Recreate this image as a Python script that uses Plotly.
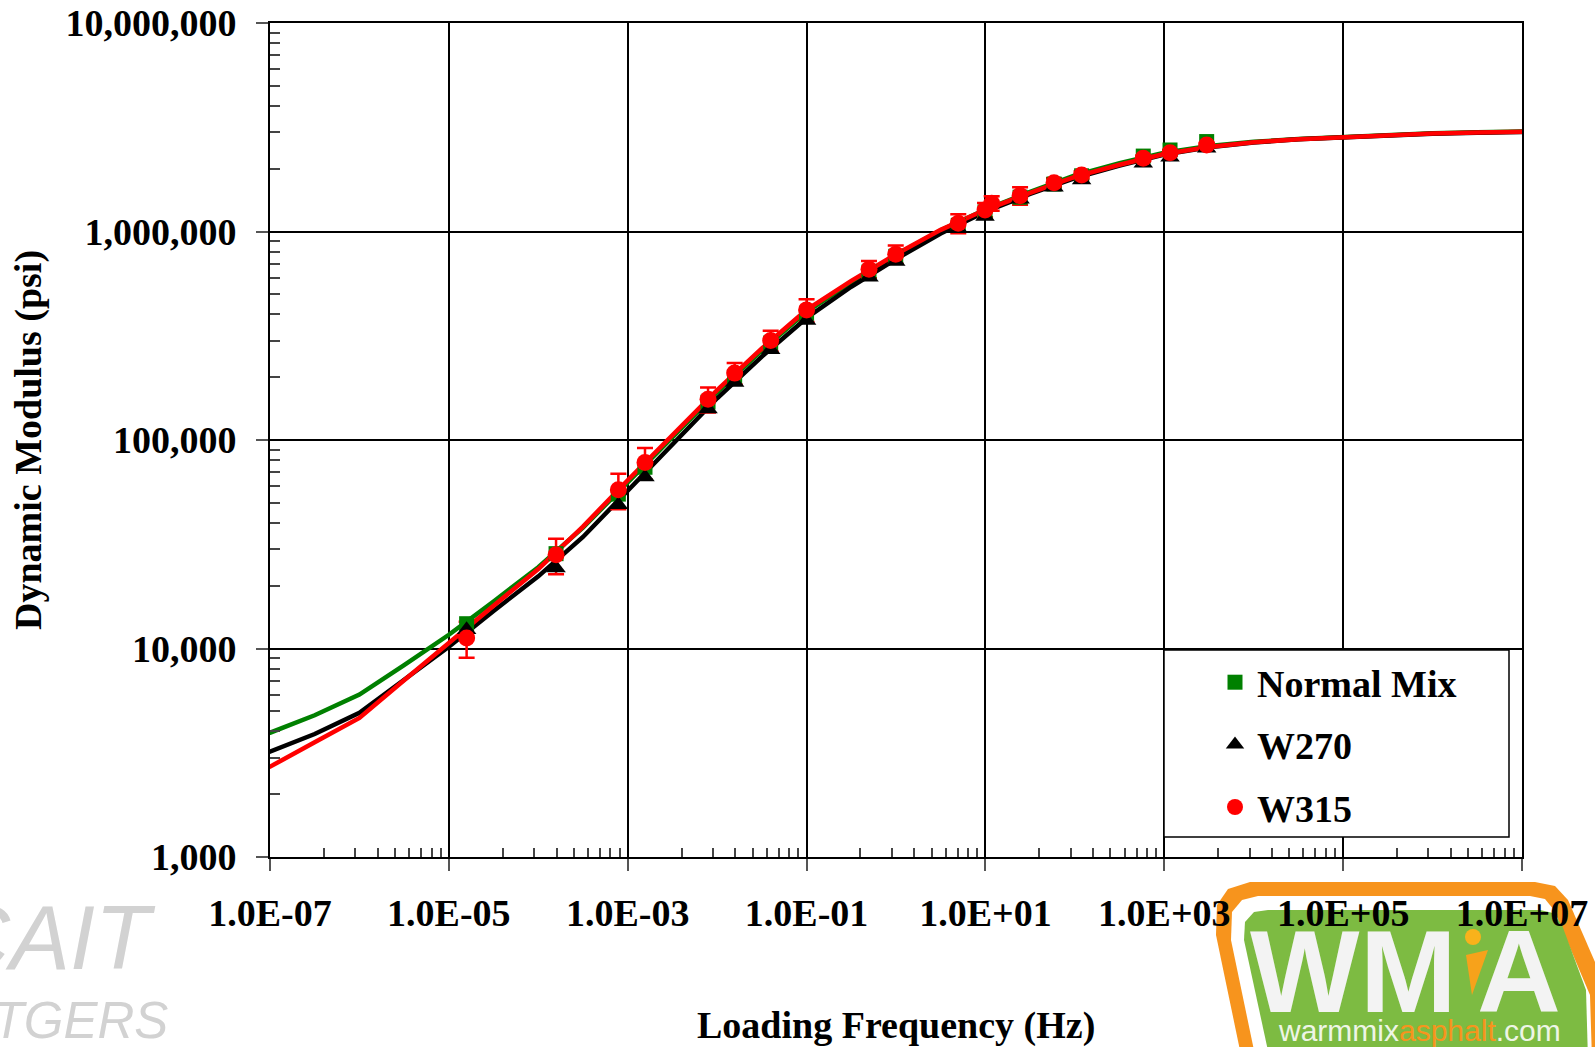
import plotly.graph_objects as go

# ---------------- data ----------------
# fitted master curves (Hz -> psi)
curve_freq = [8.1e-8, 1e-7, 3.16e-7, 1e-6, 3.16e-6, 1e-5, 3.16e-5, 1e-4, 3.16e-4, 1e-3,
              3.16e-3, 1e-2, 3.16e-2, 0.1, 0.316, 1, 3.16, 10, 31.6, 100,
              316, 1000, 3160, 1e4, 3.16e4, 1e5, 3.16e5, 1e6, 3.16e6, 1e7, 1.2e7]
curve_normal = [3864, 3945, 4786, 6012, 8318, 11640, 16790, 24550, 38020, 62660,
                103300, 169400, 269200, 412100, 570200, 769100, 1014000, 1274000, 1549000, 1858000,
                2128000, 2388000, 2570000, 2692000, 2780000, 2844000, 2911000, 2958000, 2992000, 3013000, 3017000]
curve_w270 = [3133, 3199, 3890, 4920, 7079, 10210, 15140, 22180, 34280, 56890,
              95500, 158500, 251200, 384600, 543300, 737900, 977200, 1245000, 1514000, 1803000,
              2070000, 2339000, 2535000, 2673000, 2767000, 2831000, 2897000, 2944000, 2979000, 2999000, 3003000]
curve_w315 = [2655, 2710, 3548, 4645, 7047, 10690, 16030, 24040, 38460, 64120,
              105700, 173400, 274800, 420700, 579400, 778000, 1018600, 1270600, 1531000, 1828000,
              2089000, 2355000, 2541000, 2679000, 2773000, 2838000, 2904000, 2951000, 2985000, 3006000, 3010000]

# measured points (reduced frequency, Hz)
meas_freq = [1.58e-5, 1.58e-4, 7.86e-4, 1.56e-3, 7.91e-3, 1.57e-2, 3.97e-2, 0.1, 0.499, 0.993,
             4.97, 9.9, 11.75, 24.4, 58.5, 119, 582, 1159, 2978]
meas_normal = [13150, 28500, 55000, 74000, 152000, 201000, 292000, 405000, 640000, 760000,
               1070000, 1240000, None, 1460000, 1690000, 1850000, 2300000, 2460000, 2700000]
meas_w270 = [12300, 24300, 48900, 66400, 140700, 188600, 270700, 373900, 603900, 717300,
             1030000, 1179000, None, 1428000, 1631000, 1768000, 2125000, 2271000, 2507000]
meas_w315 = [11220, 28180, 57700, 78000, 157000, 209300, 299900, 420800, 659500, 778300,
             1095900, 1269000, 1367000, 1486000, 1715000, 1867000, 2246000, 2389000, 2601000]
err_w315 = [2200, 5450, 11200, 13600, 21500, 24500, 34300, 52500, 63000, 77700,
            114000, 100000, 110000, 144000, 86000, 80000, 70000, 70000, 60000]

x_tick_exp = [-7, -5, -3, -1, 1, 3, 5, 7]
y_tick_vals = [1000, 10000, 100000, 1000000, 10000000]

series_names = ["Normal Mix", "W270", "W315"]
GREEN, BLACK, RED = "#008000", "#000000", "#ff0000"

# ---------------- layout geometry ----------------
W, H = 1595, 1047
L, R, T, B = 270, W - 1522, 23, H - 857
PW, PH = W - L - R, H - T - B


def px(x):
    return (x - L) / PW


def py(y):
    return (H - B - y) / PH


fig = go.Figure()

# fitted curves
for yv, col in [(curve_normal, GREEN), (curve_w270, BLACK), (curve_w315, RED)]:
    fig.add_trace(go.Scatter(x=curve_freq, y=yv, mode="lines",
                             line=dict(color=col, width=4.5), showlegend=False,
                             hoverinfo="skip"))

# red error bars (behind the markers)
fig.add_trace(go.Scatter(x=meas_freq, y=meas_w315, mode="markers",
                         marker=dict(size=1, color="rgba(0,0,0,0)"),
                         error_y=dict(type="data", array=err_w315, visible=True,
                                      color=RED, thickness=2.5, width=8),
                         showlegend=False, hoverinfo="skip"))

fig.add_trace(go.Scatter(x=meas_freq, y=meas_normal, mode="markers", name=series_names[0],
                         legendgroup="a",
                         marker=dict(symbol="square", size=15, color=GREEN)))
fig.add_trace(go.Scatter(x=meas_freq, y=meas_w270, mode="markers", name=series_names[1],
                         legendgroup="b",
                         marker=dict(symbol="triangle-up", size=17, color=BLACK)))
fig.add_trace(go.Scatter(x=meas_freq, y=meas_w315, mode="markers", name=series_names[2],
                         legendgroup="c",
                         marker=dict(symbol="circle", size=17, color=RED)))

x_minor = [k ** 2 * 10.0 ** e for e in range(-7, 7, 2) for k in range(2, 10)]
y_minor = [k * 10.0 ** e for e in range(3, 7) for k in range(2, 10)]

FONT = "Liberation Serif"
tickfont = dict(family=FONT, size=38, color="black", weight="bold")

fig.update_xaxes(type="log", range=[-7, 7], automargin=False,
                 tickvals=[10.0 ** e for e in x_tick_exp],
                 ticktext=[f"1.0E{e:+03d}" for e in x_tick_exp],
                 tickfont=tickfont, ticks="outside", ticklen=12, tickwidth=1.5, tickcolor="#555",
                 ticklabelstandoff=9,
                 showgrid=True, gridcolor="black", gridwidth=2,
                 showline=True, linecolor="black", linewidth=2, mirror=True,
                 zeroline=False,
                 minor=dict(tickvals=x_minor, ticks="inside", ticklen=9, tickwidth=1.5,
                            tickcolor="#444", showgrid=False))
fig.update_yaxes(type="log", range=[3, 7], automargin=False,
                 tickvals=y_tick_vals, ticktext=[f"{v:,}" for v in y_tick_vals],
                 tickfont=tickfont, ticks="outside", ticklen=12, tickwidth=1.5, tickcolor="#555",
                 ticklabelstandoff=12,
                 showgrid=True, gridcolor="black", gridwidth=2,
                 showline=True, linecolor="black", linewidth=2, mirror=True,
                 zeroline=False,
                 minor=dict(tickvals=y_minor, ticks="inside", ticklen=10, tickwidth=1.5,
                            tickcolor="#444", showgrid=False))

shapes = []
# legend box
shapes.append(dict(type="rect", xref="paper", yref="paper",
                   x0=px(1164), x1=px(1509), y0=py(837), y1=py(650),
                   fillcolor="white", line=dict(color="black", width=1.5), layer="above"))


def path(points):
    return "M " + " L ".join(f"{px(a):.5f},{py(b):.5f}" for a, b in points) + " Z"


# WMA logo (approximate)
orange = "#f7941d"
shapes.append(dict(type="path", xref="paper", yref="paper", layer="below",
                   path=path([(1242, 1060), (1216, 935), (1217, 905), (1228, 889), (1250, 882),
                              (1535, 882), (1555, 886), (1568, 900), (1605, 985), (1605, 1060)]),
                   fillcolor=orange, line=dict(width=0)))
shapes.append(dict(type="path", xref="paper", yref="paper", layer="below",
                   path=path([(1256, 1060), (1231, 940), (1232, 912), (1242, 900), (1258, 896),
                              (1530, 896), (1545, 899), (1554, 910), (1590, 995), (1592, 1060)]),
                   fillcolor="white", line=dict(width=0)))
shapes.append(dict(type="path", xref="paper", yref="paper", layer="below",
                   path=path([(1270, 1060), (1244, 940), (1245, 922), (1254, 912), (1268, 910),
                              (1540, 910), (1553, 913), (1562, 925), (1586, 990), (1588, 1060)]),
                   fillcolor="#7dbb42", line=dict(width=0)))
shapes.append(dict(type="circle", xref="paper", yref="paper", layer="below",
                   x0=px(1465), x1=px(1481), y0=py(945), y1=py(929),
                   fillcolor="#f9b21b", line=dict(width=0)))
shapes.append(dict(type="path", xref="paper", yref="paper", layer="below",
                   path=path([(1466, 955), (1488, 950), (1472, 995)]),
                   fillcolor="#f7a21b", line=dict(width=0)))

annotations = [
    dict(text="Loading Frequency (Hz)", xref="paper", yref="paper", x=0.5, y=py(1025),
         xanchor="center", yanchor="middle", showarrow=False,
         font=dict(family=FONT, size=38, color="black", weight="bold")),
    dict(text="Dynamic Modulus (psi)", xref="paper", yref="paper", x=px(28), y=0.5,
         xanchor="center", yanchor="middle", textangle=-90, showarrow=False,
         font=dict(family=FONT, size=38, color="black", weight="bold")),
    # watermark
    dict(text="CAIT", xref="paper", yref="paper", x=px(158), y=py(938),
         xanchor="right", yanchor="middle", showarrow=False,
         font=dict(family="Liberation Sans", size=90, color="#d2d2d2", style="italic",
                   weight="normal")),
    dict(text="RUTGERS", xref="paper", yref="paper", x=px(170), y=py(1020),
         xanchor="right", yanchor="middle", showarrow=False,
         font=dict(family="Liberation Sans", size=51, color="#d2d2d2", style="italic",
                   weight="normal")),
    # WMA logo letters
    dict(text="W", xref="paper", yref="paper", x=px(1305), y=py(972),
         xanchor="center", yanchor="middle", showarrow=False,
         font=dict(family="Liberation Sans", size=116, color="#f3f3f3", weight="bold")),
    dict(text="M", xref="paper", yref="paper", x=px(1408), y=py(972),
         xanchor="center", yanchor="middle", showarrow=False,
         font=dict(family="Liberation Sans", size=116, color="#f3f3f3", weight="bold")),
    dict(text="A", xref="paper", yref="paper", x=px(1519), y=py(972),
         xanchor="center", yanchor="middle", showarrow=False,
         font=dict(family="Liberation Sans", size=116, color="#f3f3f3", weight="bold")),
    dict(text="warmmix<span style='color:#f7941d'>asphalt</span>.com", xref="paper", yref="paper",
         x=px(1419), y=py(1030), xanchor="center", yanchor="middle", showarrow=False,
         font=dict(family="Liberation Sans", size=30, color="#eef5e6", weight="normal")),
]

fig.update_layout(
    width=W, height=H,
    margin=dict(l=L, r=R, t=T, b=B, pad=0, autoexpand=False),
    paper_bgcolor="white", plot_bgcolor="white",
    font=dict(family=FONT, size=38, color="black", weight="bold"),
    showlegend=True,
    legend=dict(x=px(1213), y=py(651), xanchor="left", yanchor="top",
                xref="paper", yref="paper", itemwidth=34,
                bgcolor="rgba(0,0,0,0)", borderwidth=0, tracegroupgap=10,
                font=dict(family=FONT, size=38, color="black", weight="bold")),
    shapes=shapes,
    annotations=annotations,
    hovermode=False,
)

fig.write_html("out.html")
